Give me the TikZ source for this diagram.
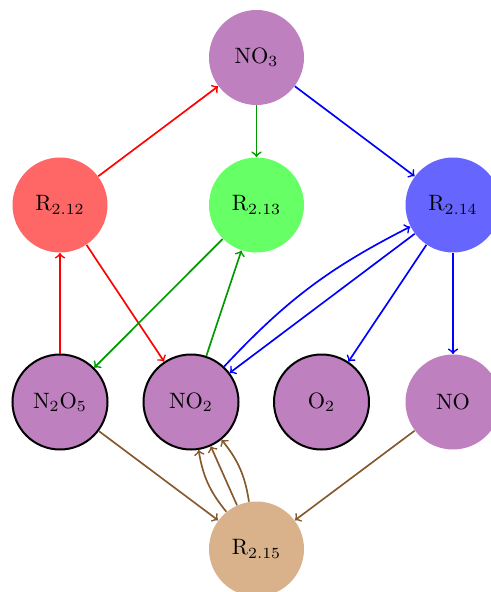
\documentclass[tikz,border=0pt]{standalone}
\begin{document}
\begin{tikzpicture}[x=0.45pt,y=-0.45pt,
  species/.style={circle,minimum size=42.75pt,inner sep=0pt,fill=violet!50},
  bordered/.style={species,draw=black,line width=0.9pt},
  reac/.style={circle,minimum size=42.75pt,inner sep=0pt},
  edge/.style={->,line width=0.75pt}]
\useasboundingbox (0,0) rectangle (491,592);
\node[species] (no3) at (256.5,57.5) {NO$_3$};
\node[reac,fill=red!60] (r12) at (60,205) {R$_{2.12}$};
\node[reac,fill=green!60] (r13) at (256.5,205) {R$_{2.13}$};
\node[reac,fill=blue!60] (r14) at (453,205) {R$_{2.14}$};
\node[bordered] (n2o5) at (60,402) {N$_2$O$_5$};
\node[bordered] (no2) at (191,402) {NO$_2$};
\node[bordered] (o2) at (321.5,402) {O$_2$};
\node[species] (no) at (453,402) {NO};
\node[reac,fill=brown!60] (r15) at (256.5,549) {R$_{2.15}$};
% R2.12
\draw[edge,red] (r12) -- (no3);
\draw[edge,red] (n2o5) -- (r12);
\draw[edge,red] (r12) -- (no2);
% R2.13
\draw[edge,green!60!black] (no3) -- (r13);
\draw[edge,green!60!black] (r13) -- (n2o5);
\draw[edge,green!60!black] (no2) -- (r13);
% R2.14
\draw[edge,blue] (no3) -- (r14);
\draw[edge,blue] (no2) to[bend left=10] (r14);
\draw[edge,blue] (r14) -- (no2);
\draw[edge,blue] (r14) -- (o2);
\draw[edge,blue] (r14) -- (no);
% R2.15
\draw[edge,brown!70!black] (n2o5) -- (r15);
\draw[edge,brown!70!black] (no) -- (r15);
\draw[edge,brown!70!black] (r15) to[bend left=15] (no2);
\draw[edge,brown!70!black] (r15) -- (no2);
\draw[edge,brown!70!black] (r15) to[bend right=15] (no2);
\end{tikzpicture}
\end{document}
